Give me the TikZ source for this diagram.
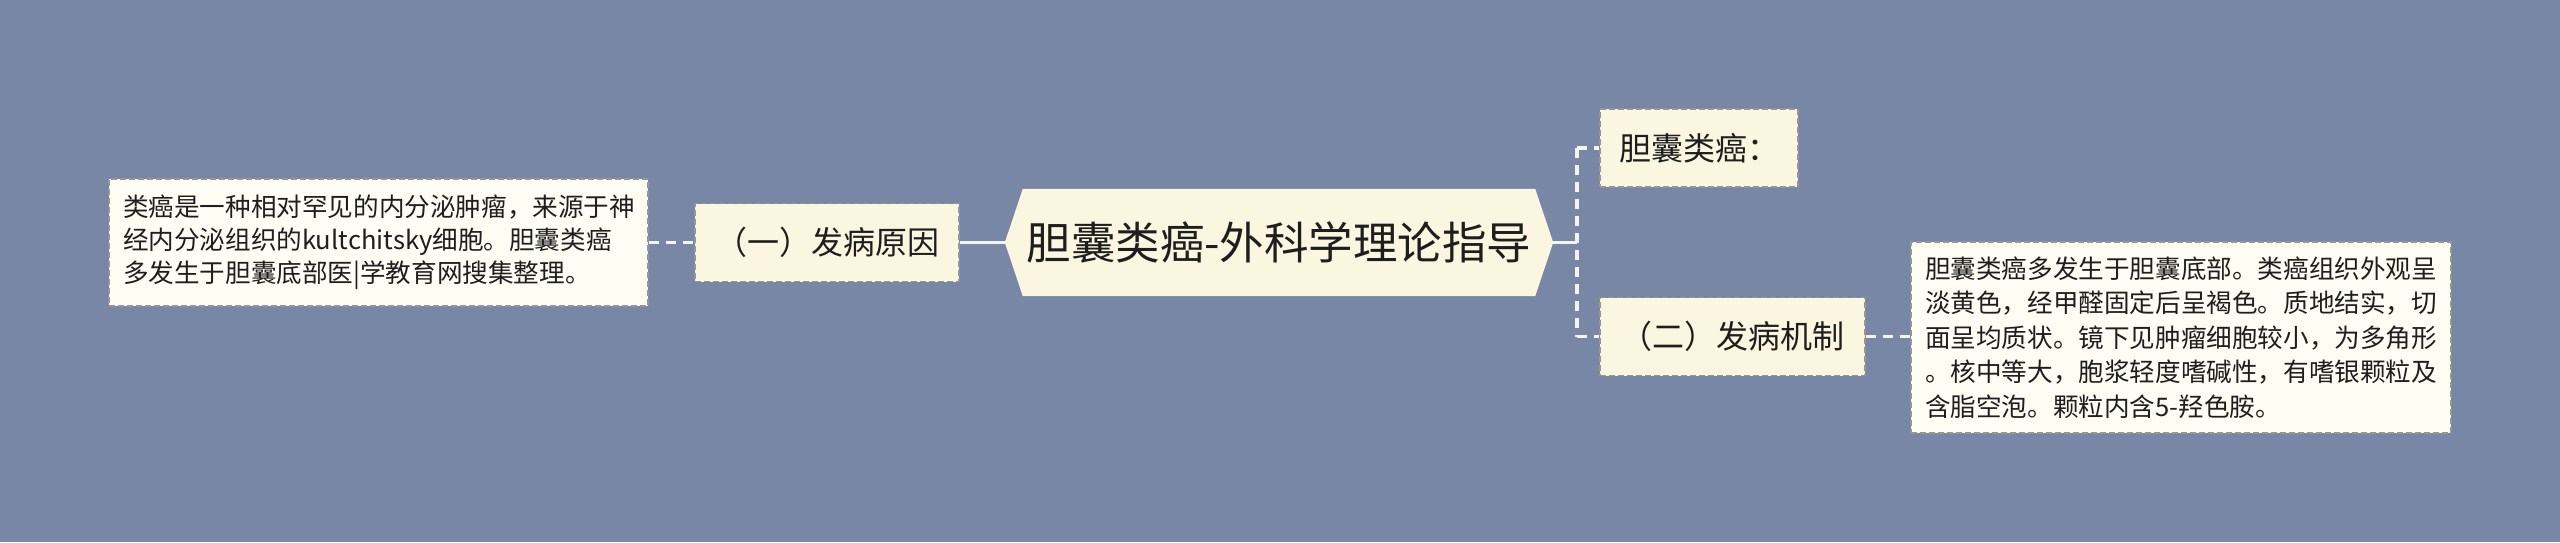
\documentclass[tikz,border=0pt]{standalone}
\usepackage{fontspec}
\newfontfamily\cjk{Noto Sans CJK SC}
\usetikzlibrary{calc,backgrounds}
\definecolor{bgc}{RGB}{121,135,166}
\definecolor{leaffill}{RGB}{254,253,243}
\definecolor{midfill}{RGB}{251,246,223}
\definecolor{bordc}{RGB}{150,150,150}
\definecolor{linec}{RGB}{244,244,240}
\definecolor{txt}{RGB}{30,30,30}
\begin{document}
\begin{tikzpicture}[x=1pt,y=-1pt,
  leafbox/.style={draw=bordc, fill=leaffill, line width=1.3pt, dash pattern=on 6pt off 3pt,
    inner xsep=14pt, inner ysep=0pt, align=left, text=txt, anchor=center},
  midbox/.style={draw=bordc, fill=midfill, line width=1.3pt, dash pattern=on 6pt off 3pt,
    inner sep=0pt, minimum height=78pt, text=txt, font=\cjk\fontsize{32}{38}\selectfont},
  conn/.style={draw=linec, line width=3.5pt},
  dconn/.style={draw=linec, line width=3.5pt, dash pattern=on 10pt off 7pt}
]
\useasboundingbox (0,0) rectangle (2560,542);
\begin{scope}[on background layer]
  \fill[bgc] (0,0) rectangle (2560,542);
\end{scope}

% central node
\node[inner sep=0pt, minimum width=548pt, minimum height=107pt, text=txt,
  font=\cjk\fontsize{44.5}{50}\selectfont] (hex) at (1279,242.5) {胆囊类癌-外科学理论指导};
\begin{scope}[on background layer]
  \fill[midfill] (hex.west) -- ($(hex.north west)+(18,0)$) -- ($(hex.north east)+(-18,0)$)
    -- (hex.east) -- ($(hex.south east)+(-18,0)$) -- ($(hex.south west)+(18,0)$) -- cycle;
\end{scope}

% left side
\node[midbox, minimum width=264pt] (A) at (827,242.5) {（一）发病原因};
\node[leafbox, text width=511pt, minimum height=127pt,
  font=\cjk\fontsize{25.6}{33}\selectfont] (L) at (378.5,242.5)
  {类癌是一种相对罕见的内分泌肿瘤，来源于神\\经内分泌组织的kultchitsky细胞。胆囊类癌\\多发生于胆囊底部医|学教育网搜集整理。};

% right side
\node[midbox, minimum width=198pt] (B) at (1699,148) {胆囊类癌：};
\node[midbox, minimum width=265pt] (C) at (1732.5,336.5) {（二）发病机制};
\node[leafbox, text width=512pt, minimum height=191pt,
  font=\cjk\fontsize{25.6}{34.5}\selectfont] (R) at (2181,337.5)
  {胆囊类癌多发生于胆囊底部。类癌组织外观呈\\淡黄色，经甲醛固定后呈褐色。质地结实，切\\面呈均质状。镜下见肿瘤细胞较小，为多角形\\。核中等大，胞浆轻度嗜碱性，有嗜银颗粒及\\含脂空泡。颗粒内含5-羟色胺。};

% connectors
\coordinate (j) at (1577,242.5);
\coordinate (jt) at (1577,148);
\coordinate (jb) at (1577,336.5);
\draw[dconn] (L.east) -- (A.west);
\draw[conn] (A.east) -- (hex.west);
\draw[conn] (hex.east) -- (j);
\draw[dconn] (jt) -- (jb);
\draw[dconn] (jt) -- (B.west);
\draw[dconn] (jb) -- (C.west);
\draw[dconn] (C.east) -- (C.east -| R.west);
\end{tikzpicture}
\end{document}
